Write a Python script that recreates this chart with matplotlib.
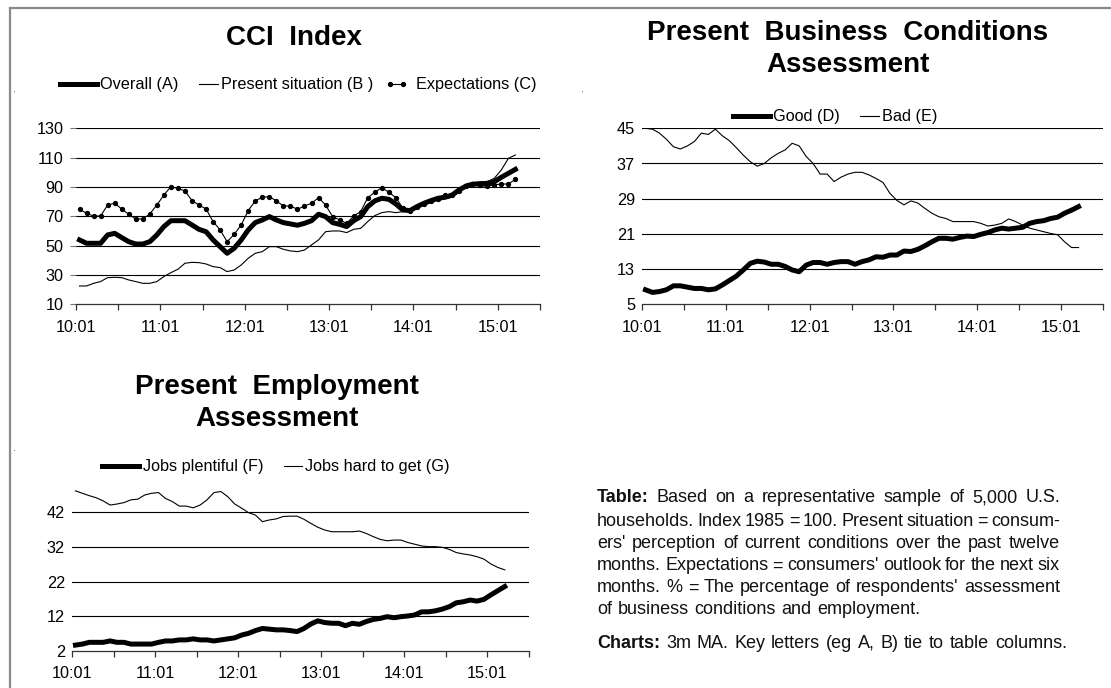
import matplotlib
matplotlib.use("Agg")
import matplotlib.pyplot as plt
from matplotlib.lines import Line2D
from matplotlib.legend_handler import HandlerLine2D

plt.rcParams['font.family'] = ['Liberation Sans', 'DejaVu Sans']

W, H = 1111, 688

# x axis: one point every 5 minutes from 10:01
time_labels = ['10:01', '11:01', '12:01', '13:01', '14:01', '15:01']

cci_overall = [53.9, 51.6, 51.6, 51.6, 57.3, 58.4, 55.5, 52.7, 51.1, 51.1,
               52.7, 57.3, 63.0, 67.0, 67.0, 67.0, 64.1, 61.1, 59.5, 53.9,
               49.3, 44.8, 48.2, 53.9, 60.7, 65.7, 67.5, 69.8, 67.5, 65.7,
               64.8, 63.9, 65.2, 67.0, 71.4, 69.8, 65.7, 64.5, 63.0, 67.0,
               69.8, 76.6, 80.5, 82.3, 81.6, 78.4, 74.3, 73.9, 76.6, 78.9,
               80.7, 82.3, 83.0, 84.5, 88.0, 90.7, 92.0, 92.0, 92.5, 93.6,
               96.6, 99.3, 102.0]
cci_present = [22.5, 22.5, 24.3, 25.5, 28.2, 28.4, 28.2, 26.6, 25.5, 24.3,
               24.3, 25.5, 28.9, 31.6, 33.9, 38.0, 38.6, 38.4, 37.5, 35.7,
               35.0, 32.3, 33.4, 36.8, 41.4, 44.8, 45.9, 49.3, 49.3, 47.5,
               46.4, 45.9, 47.0, 50.5, 53.9, 59.5, 60.0, 60.0, 58.9, 61.1,
               61.8, 66.4, 70.5, 72.5, 73.2, 72.5, 73.2, 74.3, 77.0, 78.0,
               80.0, 81.0, 82.0, 83.0, 87.0, 90.7, 92.7, 93.6, 93.6, 95.9,
               101.6, 109.5, 111.8]
cci_expect = [75.0, 72.0, 70.2, 70.2, 77.7, 78.9, 75.0, 71.4, 68.2, 68.2,
              71.6, 77.7, 84.5, 90.2, 89.0, 87.3, 80.7, 77.7, 75.0, 66.4,
              60.7, 52.7, 57.7, 64.1, 73.9, 80.5, 83.0, 83.4, 80.5, 77.0,
              77.0, 74.8, 77.0, 78.9, 82.7, 77.7, 69.8, 67.5, 65.2, 70.2,
              73.2, 82.7, 86.4, 89.5, 86.4, 82.7, 75.5, 73.5, 76.6, 78.5,
              80.5, 82.0, 84.5, 84.5, 87.5, 90.7, 92.0, 91.0, 90.5, 91.5,
              92.0, 92.0, 95.2]

biz_good = [8.3, 7.7, 7.9, 8.3, 9.2, 9.2, 8.9, 8.6, 8.6, 8.3,
            8.5, 9.4, 10.4, 11.4, 12.8, 14.3, 14.8, 14.6, 14.1, 14.1,
            13.6, 12.8, 12.4, 13.9, 14.5, 14.5, 14.1, 14.5, 14.7, 14.7,
            14.1, 14.7, 15.1, 15.8, 15.7, 16.2, 16.2, 17.1, 17.0, 17.5,
            18.3, 19.2, 20.0, 20.0, 19.8, 20.2, 20.5, 20.4, 20.9, 21.3,
            21.9, 22.3, 22.1, 22.3, 22.5, 23.4, 23.8, 24.0, 24.5, 24.8,
            25.7, 26.4, 27.2]
biz_bad = [45.0, 44.8, 43.9, 42.5, 40.8, 40.3, 41.0, 42.0, 43.9, 43.6,
           44.8, 43.3, 42.2, 40.6, 38.9, 37.4, 36.4, 37.0, 38.3, 39.3,
           40.1, 41.6, 41.0, 38.6, 37.0, 34.6, 34.6, 32.9, 33.9, 34.6,
           35.0, 35.0, 34.4, 33.6, 32.7, 30.2, 28.6, 27.6, 28.5, 28.0,
           26.8, 25.7, 24.9, 24.5, 23.8, 23.8, 23.8, 23.8, 23.4, 22.8,
           23.0, 23.4, 24.4, 23.8, 23.0, 22.3, 21.9, 21.5, 21.1, 20.8,
           19.2, 17.9, 17.9]

jobs_plenty = [3.7, 4.0, 4.5, 4.5, 4.5, 4.9, 4.5, 4.5, 4.0, 4.0,
               4.0, 4.0, 4.5, 4.9, 4.9, 5.2, 5.2, 5.5, 5.2, 5.2,
               4.9, 5.2, 5.5, 5.8, 6.6, 7.1, 7.9, 8.5, 8.3, 8.1,
               8.1, 7.9, 7.6, 8.5, 9.8, 10.7, 10.2, 10.0, 10.0, 9.3,
               10.0, 9.7, 10.5, 11.1, 11.4, 11.9, 11.6, 11.9, 12.1, 12.4,
               13.3, 13.3, 13.6, 14.1, 14.8, 15.9, 16.2, 16.7, 16.4, 16.9,
               18.2, 19.4, 20.6]
jobs_hard = [48.2, 47.5, 46.8, 46.2, 45.3, 44.1, 44.4, 44.8, 45.6, 45.8,
             47.0, 47.5, 47.7, 46.0, 45.1, 43.8, 43.8, 43.3, 44.1, 45.6,
             47.7, 48.0, 46.5, 44.4, 43.2, 41.9, 41.2, 39.3, 39.8, 40.1,
             40.8, 40.9, 40.9, 40.0, 38.8, 37.7, 36.9, 36.4, 36.4, 36.4,
             36.4, 36.6, 35.9, 35.0, 34.2, 33.8, 34.0, 34.0, 33.3, 32.8,
             32.3, 32.1, 32.1, 31.9, 31.3, 30.4, 30.0, 29.7, 29.2, 28.5,
             27.1, 26.1, 25.4]

cci_yticks = [10, 30, 50, 70, 90, 110, 130]
biz_yticks = [5, 13, 21, 29, 37, 45]
jobs_yticks = [2, 12, 22, 32, 42]

FS = 11.7      # tick / legend font
TITLE_FS = 20


class ShortHandle(HandlerLine2D):
    # legend line sample drawn shorter than the handle box, right aligned
    def __init__(self, frac, **kw):
        super().__init__(**kw)
        self.frac = frac

    def create_artists(self, legend, orig_handle, xdescent, ydescent,
                       width, height, fontsize, trans):
        w = width * self.frac
        return super().create_artists(legend, orig_handle, xdescent - (width - w),
                                      ydescent, w, height, fontsize, trans)


def px_axes(fig, left, top, right, bottom):
    return fig.add_axes([left / W, 1 - bottom / H, (right - left) / W, (bottom - top) / H])


def style_axes(ax, yticks, ylim, ytick_len=0):
    n = len(cci_overall)
    ax.set_xlim(-0.5, n - 0.5)
    ax.set_ylim(*ylim)
    ax.set_yticks(yticks)
    ax.set_yticklabels([str(v) for v in yticks], fontsize=FS)
    ax.set_xticks([-0.5 + 12 * k for k in range(len(time_labels))])
    ax.set_xticklabels(time_labels, fontsize=FS)
    ax.set_xticks([5.5 + 12 * k for k in range(len(time_labels))], minor=True)
    ax.tick_params(axis='x', which='both', length=4, width=0.9, color='#333333', pad=7)
    ax.tick_params(axis='y', length=ytick_len, width=0.8, color='#777777', pad=5)
    for s in ['top', 'right', 'left']:
        ax.spines[s].set_visible(False)
    ax.spines['bottom'].set_color('#333333')
    ax.spines['bottom'].set_linewidth(0.9)
    ax.set_facecolor('none')
    for v in yticks[1:]:
        ax.axhline(v, color='black', lw=0.8, zorder=1)


def add_legend(ax, handles, labels, handler_map, cx, cy):
    ax.legend(handles, labels, handler_map=handler_map, loc='center',
              bbox_to_anchor=(cx / W, 1 - cy / H), bbox_transform=fig.transFigure,
              ncol=len(handles), frameon=False, fontsize=FS, handlelength=2.3,
              handletextpad=0.2, columnspacing=0.1, borderpad=0, borderaxespad=0)


fig = plt.figure(figsize=(W / 100, H / 100), dpi=100)

# outer frame (left and top edges visible)
fig.add_artist(Line2D([10 / W, 10 / W], [0, 1 - 8 / H], transform=fig.transFigure,
                      color='#8a8a8a', lw=1.6))
fig.add_artist(Line2D([10 / W, 1], [1 - 8 / H, 1 - 8 / H], transform=fig.transFigure,
                      color='#8a8a8a', lw=1.6))

x = list(range(len(cci_overall)))

# ---- CCI Index ----
ax1 = px_axes(fig, 76, 128.3, 540, 304.3)
style_axes(ax1, cci_yticks, (10, 130), ytick_len=4)
l_a, = ax1.plot(x, cci_overall, color='black', lw=3.6, solid_joinstyle='round', zorder=4)
l_b, = ax1.plot(x, cci_present, color='black', lw=0.8, zorder=3)
l_c, = ax1.plot(x, cci_expect, color='black', lw=0.8, marker='o', ms=2.8, zorder=3)
add_legend(ax1, [l_a, l_b, l_c], ['Overall (A)', 'Present situation (B )', 'Expectations (C)'],
           {l_b: ShortHandle(0.5), l_c: ShortHandle(0.85, numpoints=2, marker_pad=0.6)},
           298, 85)
fig.text(294 / W, 1 - 38 / H, 'CCI  Index', ha='center', va='center',
         fontsize=TITLE_FS, fontweight='bold')

# ---- Present Business Conditions ----
ax2 = px_axes(fig, 642, 128.3, 1103, 304.3)
style_axes(ax2, biz_yticks, (5, 45))
l_d, = ax2.plot(x, biz_good, color='black', lw=3.6, solid_joinstyle='round', zorder=4)
l_e, = ax2.plot(x, biz_bad, color='black', lw=0.8, zorder=3)
add_legend(ax2, [l_d, l_e], ['Good (D)', 'Bad (E)'], {l_e: ShortHandle(0.5)}, 835, 117)
fig.text(848 / W, 1 - 49 / H, 'Present  Business  Conditions\nAssessment', ha='center',
         va='center', fontsize=TITLE_FS, fontweight='bold', linespacing=1.3)

# ---- Present Employment ----
ax3 = px_axes(fig, 72, 484.6, 529, 651)
style_axes(ax3, jobs_yticks, (2, 50))
l_f, = ax3.plot(x, jobs_plenty, color='black', lw=3.6, solid_joinstyle='round', zorder=4)
l_g, = ax3.plot(x, jobs_hard, color='black', lw=0.8, zorder=3)
add_legend(ax3, [l_f, l_g], ['Jobs plentiful (F)', 'Jobs hard to get (G)'],
           {l_g: ShortHandle(0.5)}, 276, 467)
fig.text(277 / W, 1 - 403 / H, 'Present  Employment\nAssessment', ha='center',
         va='center', fontsize=TITLE_FS, fontweight='bold', linespacing=1.35)

# stray dots from the source page
for dx, dy in [(15, 92), (582, 92), (15, 451)]:
    fig.text(dx / W, 1 - dy / H, '.', fontsize=8, ha='center', va='baseline', color='#444444')

# ---- notes block, justified ----
NOTE_FS = 13
note_lines = [
    ([('Table:', True), ('Based', False), ('on', False), ('a', False), ('representative', False),
      ('sample', False), ('of', False), ('5,000', False), ('U.S.', False)], True),
    ([('households.', False), ('Index', False), ('1985', False), ('=', False), ('100.', False),
      ('Present', False), ('situation', False), ('=', False), ('consum-', False)], True),
    ([(w, False) for w in "ers' perception of current conditions over the past twelve".split()], True),
    ([(w, False) for w in "months.  Expectations = consumers' outlook for the next six".split()], True),
    ([(w, False) for w in "months.  % = The percentage of respondents' assessment".split()], True),
    ([(w, False) for w in "of business conditions and employment.".split()], False),
    ([('Charts:', True)] + [(w, False) for w in "3m MA.  Key letters (eg A, B) tie to table columns.".split()], False),
]
note_y = [498, 521, 543, 566, 588, 610, 643]
x_left, x_right = 597, 1060

renderer = fig.canvas.get_renderer()
space_t = fig.text(0, 0, 'a a', fontsize=NOTE_FS)
nospace_t = fig.text(0, 0, 'aa', fontsize=NOTE_FS)
space_w = space_t.get_window_extent(renderer).width - nospace_t.get_window_extent(renderer).width
space_t.remove()
nospace_t.remove()

for (words, justify), yy in zip(note_lines, note_y):
    texts = []
    widths = []
    for w, bold in words:
        t = fig.text(0, 1 - yy / H, w, fontsize=NOTE_FS, va='center', ha='left',
                     fontweight='bold' if bold else 'normal', color='#111111')
        texts.append(t)
        widths.append(t.get_window_extent(renderer).width)
    if justify and len(words) > 1:
        gap = (x_right - x_left - sum(widths)) / (len(words) - 1)
    else:
        gap = space_w * 1.15
    cur = x_left
    for t, wdt in zip(texts, widths):
        t.set_x(cur / W)
        cur += wdt + gap

fig.savefig('out.png', dpi=100)
